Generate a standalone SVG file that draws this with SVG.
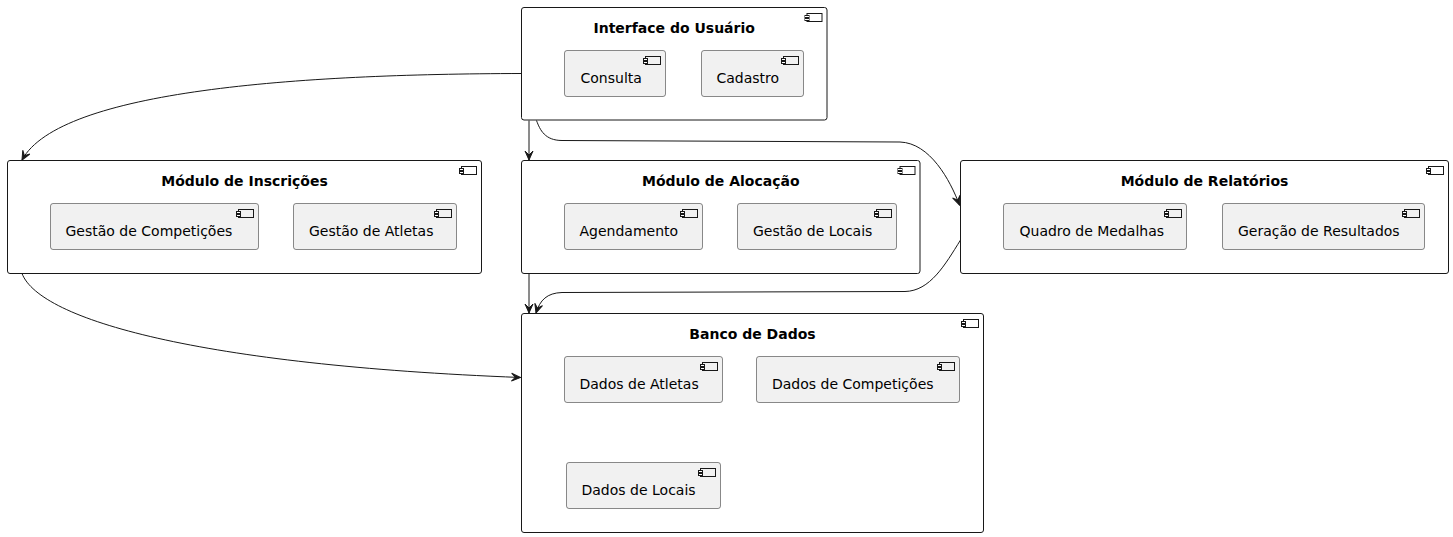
<svg xmlns="http://www.w3.org/2000/svg" width="1453" height="537" viewBox="0 0 1453 537">
<defs>
<style>
.outer{fill:#FFFFFF;stroke:#181818;stroke-width:1}
.inner{fill:#F1F1F1;stroke:#181818;stroke-width:0.5}
.ic{fill:none;stroke:#181818;stroke-width:1}
.ict{fill:#FFFFFF;stroke:#181818;stroke-width:1}
.title{font-family:"DejaVu Sans",sans-serif;font-size:14px;font-weight:bold;fill:#000000;text-anchor:middle}
.lbl{font-family:"DejaVu Sans",sans-serif;font-size:14px;fill:#000000}
.edge{fill:none;stroke:#181818;stroke-width:1}
</style>
<marker id="arr" viewBox="-10 -5 11 10" refX="0" refY="0" markerWidth="11" markerHeight="10" markerUnits="userSpaceOnUse" orient="auto">
<path d="M0,0 L-9,-4 L-5,0 L-9,4 Z" fill="#181818" stroke="#181818" stroke-width="1"/>
</marker>
<g id="icon">
<rect x="-20" y="6" width="15" height="8" class="ic"/>
<rect x="-22" y="8" width="4" height="2" class="ict"/>
<rect x="-22" y="11" width="4" height="2" class="ict"/>
</g>
</defs>

<g id="connectors">
<path class="edge" marker-end="url(#arr)" d="M521.5,73.5 C300,74 60,90 22,160"/>
<path class="edge" marker-end="url(#arr)" d="M529,120.5 L529,160"/>
<path class="edge" marker-end="url(#arr)" d="M536.5,120.5 C540,130 545,140.5 562,140.5 L900,142 C930,143 950,180 959.5,205"/>
<path class="edge" marker-end="url(#arr)" d="M22,273.5 C40,320 200,365 520.5,377.5"/>
<path class="edge" marker-end="url(#arr)" d="M529,273.5 L529,313"/>
<path class="edge" marker-end="url(#arr)" d="M960.5,240 C945,265 930,291 905,291.5 L562,292.5 C547,293 540,300 536,313"/>
</g>

<g id="interface">
<rect class="outer" x="521.5" y="7.5" width="305.5" height="112.5" rx="2.5"/>
<use href="#icon" x="827" y="7.5"/>
<text class="title" x="674.2" y="32.5">Interface do Usuário</text>
<g id="consulta">
<rect class="inner" x="564.5" y="50.5" width="101" height="46" rx="2.5"/>
<use href="#icon" x="665.5" y="50.5"/>
<text class="lbl" x="580.5" y="83">Consulta</text>
</g>
<g id="cadastro">
<rect class="inner" x="701.5" y="50.5" width="102" height="46" rx="2.5"/>
<use href="#icon" x="803.5" y="50.5"/>
<text class="lbl" x="716.5" y="83">Cadastro</text>
</g>
</g>

<g id="inscricoes">
<rect class="outer" x="7.5" y="160.5" width="474" height="113" rx="2.5"/>
<use href="#icon" x="481.5" y="160.5"/>
<text class="title" x="244.5" y="185.5">Módulo de Inscrições</text>
<g id="gestao-competicoes">
<rect class="inner" x="50.5" y="203.5" width="208" height="46" rx="2.5"/>
<use href="#icon" x="258.5" y="203.5"/>
<text class="lbl" x="65.5" y="236">Gestão de Competições</text>
</g>
<g id="gestao-atletas">
<rect class="inner" x="293.5" y="203.5" width="163" height="46" rx="2.5"/>
<use href="#icon" x="456.5" y="203.5"/>
<text class="lbl" x="309" y="236">Gestão de Atletas</text>
</g>
</g>

<g id="alocacao">
<rect class="outer" x="521.5" y="160.5" width="398.5" height="113" rx="2.5"/>
<use href="#icon" x="920" y="160.5"/>
<text class="title" x="720.8" y="185.5">Módulo de Alocação</text>
<g id="agendamento">
<rect class="inner" x="564.5" y="203.5" width="138" height="46" rx="2.5"/>
<use href="#icon" x="702.5" y="203.5"/>
<text class="lbl" x="579.5" y="236">Agendamento</text>
</g>
<g id="gestao-locais">
<rect class="inner" x="737.5" y="203.5" width="159" height="46" rx="2.5"/>
<use href="#icon" x="896.5" y="203.5"/>
<text class="lbl" x="753" y="236">Gestão de Locais</text>
</g>
</g>

<g id="relatorios">
<rect class="outer" x="960.5" y="160.5" width="488" height="113" rx="2.5"/>
<use href="#icon" x="1448.5" y="160.5"/>
<text class="title" x="1204.5" y="185.5">Módulo de Relatórios</text>
<g id="quadro-medalhas">
<rect class="inner" x="1003.5" y="203.5" width="183" height="46" rx="2.5"/>
<use href="#icon" x="1186.5" y="203.5"/>
<text class="lbl" x="1019.5" y="236">Quadro de Medalhas</text>
</g>
<g id="geracao-resultados">
<rect class="inner" x="1222.5" y="203.5" width="202" height="46" rx="2.5"/>
<use href="#icon" x="1424.5" y="203.5"/>
<text class="lbl" x="1238" y="236">Geração de Resultados</text>
</g>
</g>

<g id="banco">
<rect class="outer" x="521.5" y="313.5" width="462" height="219" rx="2.5"/>
<use href="#icon" x="983.5" y="313.5"/>
<text class="title" x="752.5" y="338.5">Banco de Dados</text>
<g id="dados-atletas">
<rect class="inner" x="564.5" y="356.5" width="158" height="46" rx="2.5"/>
<use href="#icon" x="722.5" y="356.5"/>
<text class="lbl" x="579.5" y="389">Dados de Atletas</text>
</g>
<g id="dados-competicoes">
<rect class="inner" x="756.5" y="356.5" width="203" height="46" rx="2.5"/>
<use href="#icon" x="959.5" y="356.5"/>
<text class="lbl" x="772" y="389">Dados de Competições</text>
</g>
<g id="dados-locais">
<rect class="inner" x="566.5" y="462.5" width="154" height="46" rx="2.5"/>
<use href="#icon" x="720.5" y="462.5"/>
<text class="lbl" x="581.5" y="495">Dados de Locais</text>
</g>
</g>
</svg>
